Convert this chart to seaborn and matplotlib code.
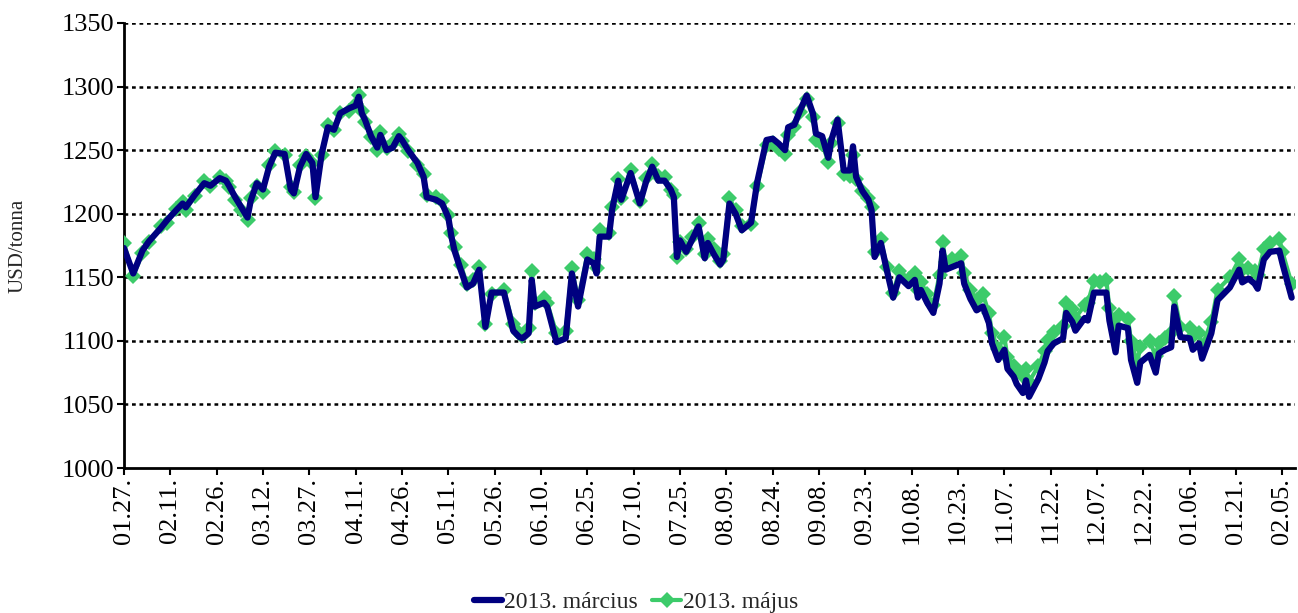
import pandas as pd
import seaborn as sns
import matplotlib
matplotlib.use("Agg")
from matplotlib import pyplot as plt
import matplotlib.dates as mdates

# dates of the readings (2012-2013)
dates = ["2012-01-27", "2012-01-30", "2012-02-02", "2012-02-04", "2012-02-08", "2012-02-10",
         "2012-02-13", "2012-02-15", "2012-02-16", "2012-02-19", "2012-02-22", "2012-02-24",
         "2012-02-27", "2012-02-29", "2012-03-01", "2012-03-03", "2012-03-05", "2012-03-07",
         "2012-03-08", "2012-03-10", "2012-03-12", "2012-03-14", "2012-03-16", "2012-03-19",
         "2012-03-21", "2012-03-22", "2012-03-24", "2012-03-26", "2012-03-28", "2012-03-29",
         "2012-03-31", "2012-04-02", "2012-04-04", "2012-04-06", "2012-04-09", "2012-04-11",
         "2012-04-12", "2012-04-13", "2012-04-14", "2012-04-16", "2012-04-18", "2012-04-19",
         "2012-04-21", "2012-04-23", "2012-04-25", "2012-04-26", "2012-04-28", "2012-05-01",
         "2012-05-03", "2012-05-04", "2012-05-07", "2012-05-09", "2012-05-11", "2012-05-12",
         "2012-05-13", "2012-05-15", "2012-05-17", "2012-05-19", "2012-05-21", "2012-05-23",
         "2012-05-25", "2012-05-29", "2012-06-01", "2012-06-03", "2012-06-04", "2012-06-06",
         "2012-06-07", "2012-06-08", "2012-06-11", "2012-06-12", "2012-06-15", "2012-06-18",
         "2012-06-20", "2012-06-22", "2012-06-25", "2012-06-27", "2012-06-28", "2012-06-29",
         "2012-07-02", "2012-07-03", "2012-07-05", "2012-07-06", "2012-07-09", "2012-07-12",
         "2012-07-14", "2012-07-16", "2012-07-18", "2012-07-20", "2012-07-22", "2012-07-23",
         "2012-07-24", "2012-07-25", "2012-07-27", "2012-07-29", "2012-07-31", "2012-08-02",
         "2012-08-03", "2012-08-05", "2012-08-07", "2012-08-08", "2012-08-10", "2012-08-12",
         "2012-08-14", "2012-08-17", "2012-08-19", "2012-08-22", "2012-08-24", "2012-08-26",
         "2012-08-28", "2012-08-29", "2012-08-31", "2012-09-02", "2012-09-04", "2012-09-06",
         "2012-09-07", "2012-09-09", "2012-09-11", "2012-09-12", "2012-09-14", "2012-09-16",
         "2012-09-18", "2012-09-19", "2012-09-20", "2012-09-22", "2012-09-24", "2012-09-25",
         "2012-09-26", "2012-09-28", "2012-09-30", "2012-10-02", "2012-10-04", "2012-10-07",
         "2012-10-09", "2012-10-10", "2012-10-11", "2012-10-13", "2012-10-15", "2012-10-17",
         "2012-10-18", "2012-10-19", "2012-10-21", "2012-10-24", "2012-10-25", "2012-10-27",
         "2012-10-29", "2012-10-31", "2012-11-02", "2012-11-03", "2012-11-05", "2012-11-07",
         "2012-11-08", "2012-11-10", "2012-11-11", "2012-11-13", "2012-11-14", "2012-11-15",
         "2012-11-18", "2012-11-20", "2012-11-21", "2012-11-23", "2012-11-26", "2012-11-27",
         "2012-11-29", "2012-11-30", "2012-12-03", "2012-12-04", "2012-12-06", "2012-12-08",
         "2012-12-10", "2012-12-11", "2012-12-13", "2012-12-14", "2012-12-17", "2012-12-18",
         "2012-12-20", "2012-12-21", "2012-12-24", "2012-12-26", "2012-12-27", "2012-12-29",
         "2012-12-31", "2013-01-01", "2013-01-03", "2013-01-06", "2013-01-07", "2013-01-09",
         "2013-01-10", "2013-01-13", "2013-01-15", "2013-01-19", "2013-01-22", "2013-01-23",
         "2013-01-25", "2013-01-27", "2013-01-28", "2013-01-30", "2013-02-01", "2013-02-04",
         "2013-02-05", "2013-02-08"]

marcius = [1173, 1153, 1171, 1178, 1189, 1195, 1203, 1208, 1205, 1215, 1224, 1222,
           1228, 1226, 1222, 1213, 1205, 1197, 1210, 1224, 1219, 1237, 1248, 1247,
           1219, 1216, 1237, 1247, 1240, 1213, 1247, 1268, 1266, 1279, 1283, 1285,
           1292, 1279, 1274, 1261, 1252, 1262, 1250, 1252, 1261, 1258, 1250, 1240,
           1229, 1213, 1211, 1208, 1197, 1182, 1171, 1156, 1142, 1145, 1156, 1111,
           1138, 1138, 1108, 1103, 1102, 1106, 1148, 1127, 1130, 1127, 1099, 1102,
           1153, 1127, 1164, 1161, 1153, 1182, 1182, 1203, 1226, 1211, 1232, 1208,
           1225, 1237, 1226, 1226, 1219, 1213, 1166, 1179, 1170, 1180, 1190, 1165,
           1177, 1168, 1160, 1164, 1208, 1200, 1187, 1193, 1225, 1258, 1259, 1255,
           1250, 1268, 1270, 1282, 1293, 1279, 1263, 1261, 1244, 1258, 1274, 1234,
           1234, 1253, 1229, 1218, 1211, 1203, 1166, 1177, 1155, 1134, 1150, 1143,
           1148, 1134, 1140, 1130, 1122, 1145, 1171, 1156, 1158, 1161, 1145, 1133,
           1124, 1127, 1114, 1098, 1085, 1093, 1078, 1072, 1066, 1059, 1069, 1056,
           1070, 1083, 1092, 1098, 1102, 1122, 1115, 1108, 1118, 1116, 1138, 1138,
           1138, 1116, 1091, 1112, 1110, 1085, 1067, 1083, 1089, 1075, 1090, 1093,
           1095, 1127, 1103, 1102, 1093, 1098, 1086, 1106, 1132, 1142, 1156, 1146,
           1149, 1145, 1141, 1164, 1170, 1171, 1161, 1134]

majus = [1177, 1151, 1169, 1178, 1190, 1193, 1204, 1209, 1203, 1214, 1226, 1222,
         1229, 1226, 1221, 1211, 1203, 1195, 1212, 1222, 1217, 1238, 1249, 1246,
         1221, 1217, 1238, 1245, 1240, 1212, 1246, 1270, 1266, 1279, 1281, 1286,
         1293, 1281, 1272, 1260, 1250, 1264, 1252, 1256, 1263, 1257, 1249, 1238,
         1231, 1215, 1213, 1210, 1199, 1185, 1174, 1160, 1145, 1148, 1158, 1113,
         1137, 1140, 1113, 1106, 1104, 1110, 1155, 1130, 1134, 1130, 1106, 1108,
         1157, 1132, 1168, 1164, 1157, 1187, 1185, 1205, 1227, 1212, 1234, 1210,
         1228, 1239, 1230, 1229, 1219, 1215, 1166, 1178, 1172, 1182, 1193, 1168,
         1180, 1172, 1163, 1168, 1212, 1203, 1190, 1192, 1222, 1254, 1256, 1251,
         1247, 1262, 1268, 1280, 1290, 1276, 1258, 1255, 1241, 1256, 1271, 1231,
         1230, 1246, 1227, 1218, 1212, 1205, 1170, 1180, 1158, 1138, 1155, 1149,
         1153, 1140, 1146, 1137, 1128, 1152, 1178, 1162, 1164, 1167, 1153, 1140,
         1132, 1137, 1122, 1106, 1094, 1103, 1087, 1080, 1076, 1072, 1078, 1068,
         1080, 1092, 1101, 1107, 1112, 1130, 1125, 1118, 1128, 1130, 1147, 1146,
         1148, 1126, 1112, 1120, 1117, 1100, 1083, 1095, 1100, 1088, 1098, 1102,
         1106, 1135, 1111, 1110, 1104, 1106, 1096, 1115, 1140, 1150, 1164, 1156,
         1157, 1155, 1152, 1172, 1177, 1180, 1170, 1145]

df = pd.DataFrame({"date": pd.to_datetime(dates), "marcius": marcius, "majus": majus})

sns.set_style("white")
plt.rcParams["font.family"] = ["Liberation Serif", "DejaVu Serif"]

fig = plt.figure(figsize=(12.98, 6.13), dpi=100)
ax = fig.add_axes([0.0955, 0.2365, 0.902, 0.726])

# green first so the navy line sits on top
sns.lineplot(data=df, x="date", y="majus", ax=ax, color="#3CCB6A", lw=3,
             marker="D", markersize=8, markeredgewidth=0, label="2013. május", zorder=3)
sns.lineplot(data=df, x="date", y="marcius", ax=ax, color="#000080", lw=4.5,
             label="2013. március", zorder=4)

ax.set_ylim(1000, 1350)
ax.set_yticks(range(1000, 1351, 50))
ax.set_xlim(pd.Timestamp("2012-01-27"), pd.Timestamp("2013-02-09"))
xt = pd.date_range("2012-01-27", "2013-02-05", freq="15D")
ax.set_xticks(xt)
ax.xaxis.set_major_formatter(mdates.DateFormatter("%m.%d."))
plt.setp(ax.get_xticklabels(), rotation=90)

for v in range(1050, 1351, 50):
    ax.axhline(v, color="black", lw=1.8, ls=(0, (1.5, 1.5)), zorder=1)

for s in ["top", "right"]:
    ax.spines[s].set_visible(False)
for s in ["left", "bottom"]:
    ax.spines[s].set_color("black")
    ax.spines[s].set_linewidth(2)

ax.tick_params(axis="both", direction="out", length=5, width=1.5, colors="black",
               labelsize=19, left=True, bottom=True, pad=2)
ax.set_xlabel("")
ax.set_ylabel("USD/tonna", fontsize=15)
ax.yaxis.set_label_coords(-0.082, 0.5)

h, l = ax.get_legend_handles_labels()
ax.legend().remove()
fig.legend(h[::-1], l[::-1], loc="lower center", bbox_to_anchor=(0.49, -0.035), ncol=2,
           frameon=False, fontsize=17, handlelength=1.2, handletextpad=0.1, columnspacing=0.6)

fig.savefig("out.png", dpi=100)
